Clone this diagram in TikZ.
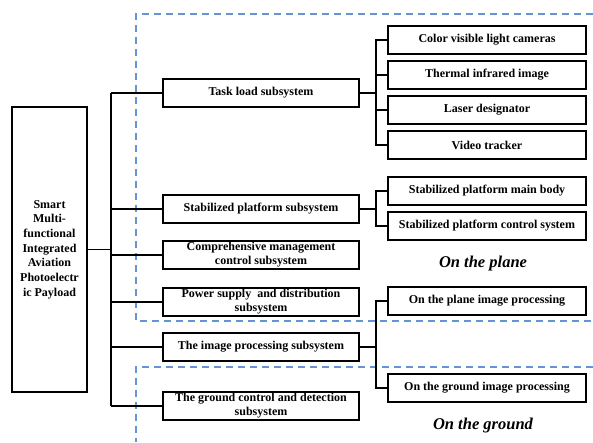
\documentclass[tikz,border=0pt]{standalone}
\usepackage{fontspec}
\setmainfont{Liberation Serif}
\usepackage{xcolor}
\usepackage{tikz}
\definecolor{dashblue}{RGB}{100,148,212}

\begin{document}
\begin{tikzpicture}[x=1pt, y=-1pt, every node/.style={font=\bfseries\fontsize{12}{14.7}\selectfont}]
  \tikzset{
    subbox/.style={draw, line width=1.2pt, minimum width=196pt, minimum height=28pt, align=center, inner sep=0pt,
      font=\bfseries\fontsize{12}{14}\selectfont},
    partbox/.style={draw, line width=1.2pt, minimum width=198pt, minimum height=28pt, align=center, inner sep=0pt},
    frame/.style={dashblue, line width=1.3pt, dash pattern=on 7pt off 5pt},
    tree/.style={line width=1.3pt},
    area/.style={font=\bfseries\itshape\fontsize{16.5}{18}\selectfont}
  }
  \useasboundingbox (0,0) rectangle (593,442);

  % dashed areas
  \draw [frame] (593,14) -- (136,14) -- (136,321) -- (593,321);
  \draw [frame] (593,367) -- (136,367) -- (136,442);

  \node [draw, line width=1.2pt, minimum width=75pt, minimum height=285pt, align=center, inner sep=0pt] (payload) at (49.5,249.5)
    {Smart\\Multi-\\functional\\Integrated\\Aviation\\Photoelectr\\ic Payload};

  \coordinate (bus) at (111,0);
  \coordinate (sbus) at (376,0);

  \node [subbox] (task) at (261,93) {Task load subsystem};
  \node [subbox] (stab) at (261,209) {Stabilized platform subsystem};
  \node [subbox] (manage) at (261,255) {Comprehensive management\\control subsystem};
  \node [subbox, below of=manage, node distance=47pt] (power) {Power supply \ and distribution\\subsystem};
  \node [subbox, below of=power, node distance=45pt] (image) {The image processing subsystem};
  \node [subbox, below of=image, node distance=59pt] (ground) {The ground control and detection\\subsystem};

  \node [partbox] (camera) at (487,40) {Color visible light cameras};
  \node [partbox, below of=camera, node distance=35pt] (thermal) {Thermal infrared image};
  \node [partbox, below of=thermal, node distance=35pt] (laser) {Laser designator};
  \node [partbox, below of=laser, node distance=35pt] (tracker) {Video tracker};
  \node [partbox] (body) at (487,191) {Stabilized platform main body};
  \node [partbox, below of=body, node distance=35pt] (control) {Stabilized platform control system};
  \node [partbox] (planeimg) at (487,301) {On the plane image processing};
  \node [partbox, below of=planeimg, node distance=87pt] (groundimg) {On the ground image processing};

  \node [area] (plane) at (483,264) {On the plane};
  \node [area] (earth) at (483,426) {On the ground};

  % main tree
  \draw [tree] (payload.east) -- (payload.east -| bus);
  \draw [tree] (task.west -| bus) -- (ground.west -| bus);
  \draw [tree] (task.west -| bus) -- (task.west);
  \draw [tree] (stab.west -| bus) -- (stab.west);
  \draw [tree] (manage.west -| bus) -- (manage.west);
  \draw [tree] (power.west -| bus) -- (power.west);
  \draw [tree] (image.west -| bus) -- (image.west);
  \draw [tree] (ground.west -| bus) -- (ground.west);

  % task load branch
  \draw [tree] (task.east) -- (task.east -| sbus);
  \draw [tree] (camera.west) -- (camera.west -| sbus) -- (tracker.west -| sbus) -- (tracker.west);
  \draw [tree] (thermal.west -| sbus) -- (thermal.west);
  \draw [tree] (laser.west -| sbus) -- (laser.west);

  % platform branch
  \draw [tree] (stab.east) -- (stab.east -| sbus);
  \draw [tree] (body.west) -- (body.west -| sbus) -- (control.west -| sbus) -- (control.west);

  % image branch
  \draw [tree] (image.east) -- (image.east -| sbus);
  \draw [tree] (planeimg.west) -- (planeimg.west -| sbus) -- (groundimg.west -| sbus) -- (groundimg.west);
\end{tikzpicture}
\end{document}
